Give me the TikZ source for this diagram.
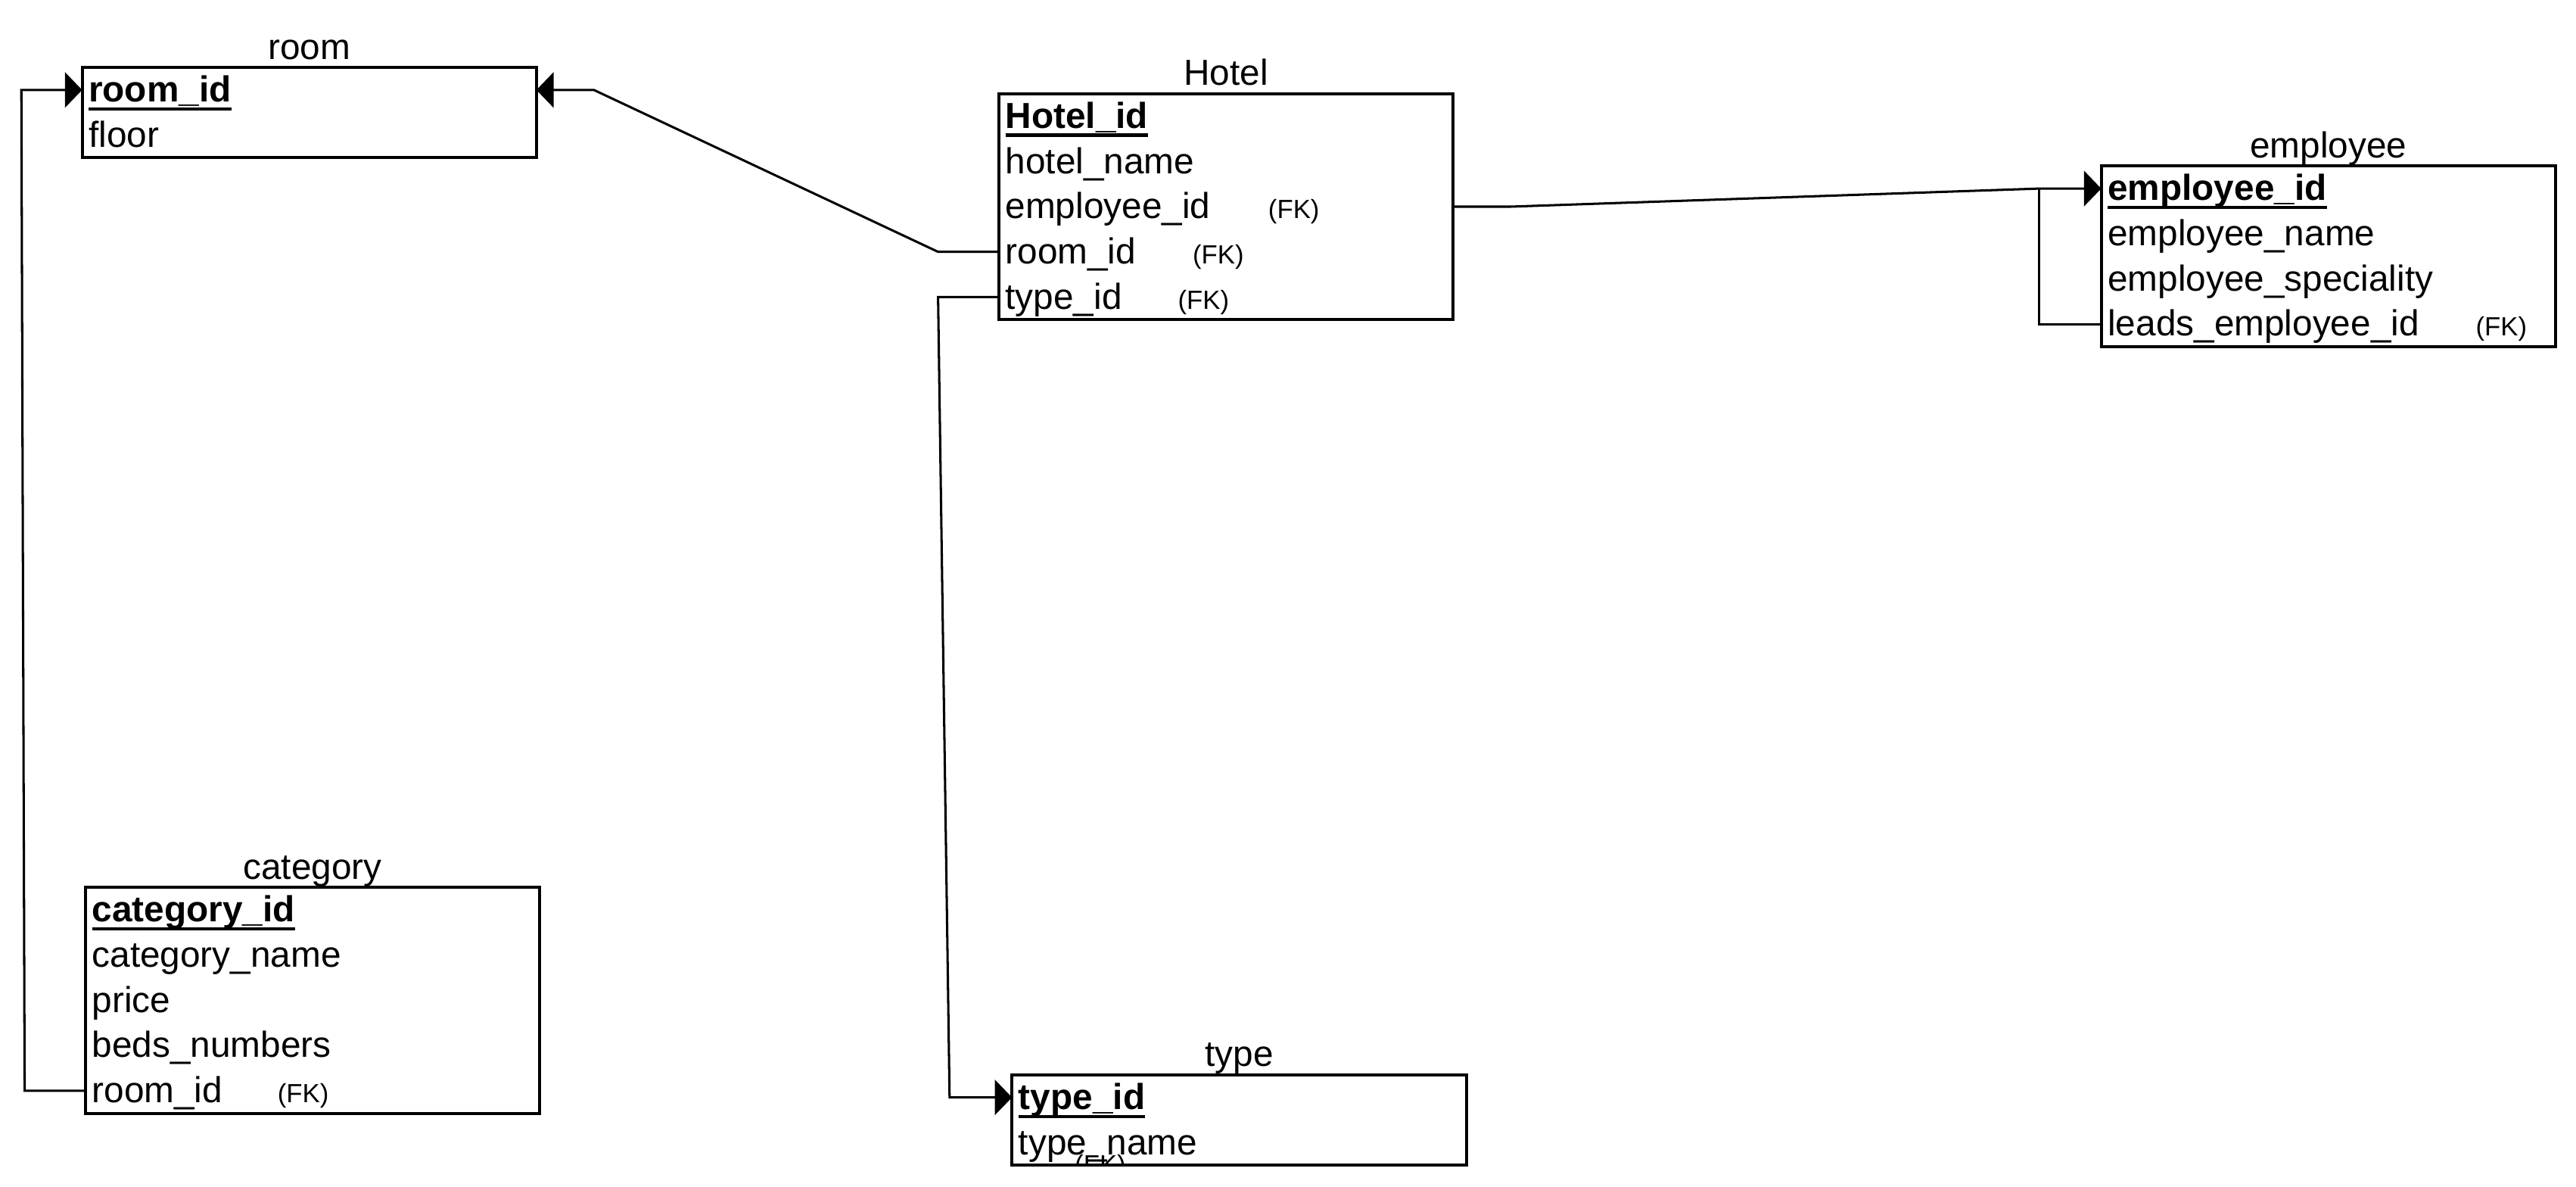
\documentclass[tikz,border=0pt]{standalone}
\usepackage{fontspec}
\setmainfont{Liberation Sans}
\usetikzlibrary{arrows.meta,positioning,fit}
% bold, underlined primary-key column
\newsavebox\pkbox
\newcommand\pkey[1]{\sbox\pkbox{\bfseries #1}\rlap{\rule[-5.2pt]{\wd\pkbox}{1.9pt}}\usebox\pkbox}
% small "(FK)" marker set at a fixed distance after the column name
\newcommand\fkfont{\fontsize{16pt}{19pt}\selectfont}
\newcommand\withfk[2]{\makebox[#1][l]{#2}{\fkfont (FK)}}

\begin{document}
\begin{tikzpicture}[x=1pt,y=-1pt,
  row/.style={rectangle, inner xsep=4pt, inner ysep=2.5pt, outer sep=0pt,
    text width=268.5pt, align=left, text height=18.5pt, text depth=4pt,
    minimum height=27.5pt, font=\fontsize{22pt}{26pt}\selectfont},
  tbl/.style={draw, line width=1.8pt, inner sep=0pt, outer sep=0pt},
  ttl/.style={anchor=base, inner sep=0pt, font=\fontsize{22pt}{26pt}\selectfont},
  link/.style={line width=1.4pt},
  fkarrow/.style={-{Triangle[length=10.5pt,width=21.5pt]}},
]
\useasboundingbox (0,0) rectangle (1568,722);

% ---- room ----
\node[row, anchor=north west] (room-id) at (50,41) {\pkey{room\_id}};
\node[row, below=0pt of room-id] (room-floor) {floor};
\node[tbl, fit=(room-id)(room-floor)] (room) {};
\node[ttl] (room-title) at ([yshift=5pt]room.north) {room};

% ---- Hotel ----
\node[row, anchor=north west] (hotel-id) at (608,57) {\pkey{Hotel\_id}};
\node[row, below=0pt of hotel-id] (hotel-name) {hotel\_name};
\node[row, below=0pt of hotel-name] (hotel-emp) {\withfk{160pt}{employee\_id}};
\node[row, below=0pt of hotel-emp] (hotel-room) {\withfk{114pt}{room\_id}};
\node[row, below=0pt of hotel-room] (hotel-type) {\withfk{105pt}{type\_id}};
\node[tbl, fit=(hotel-id)(hotel-type)] (hotel) {};
\node[ttl] (hotel-title) at ([yshift=5pt]hotel.north) {Hotel};

% ---- employee ----
\node[row, anchor=north west] (emp-id) at (1279,101) {\pkey{employee\_id}};
\node[row, below=0pt of emp-id] (emp-name) {employee\_name};
\node[row, below=0pt of emp-name] (emp-spec) {employee\_speciality};
\node[row, below=0pt of emp-spec] (emp-leads) {\withfk{224pt}{leads\_employee\_id}};
\node[tbl, fit=(emp-id)(emp-leads)] (employee) {};
\node[ttl] (emp-title) at ([yshift=5pt]employee.north) {employee};

% ---- category ----
\node[row, anchor=north west] (cat-id) at (52,540) {\pkey{category\_id}};
\node[row, below=0pt of cat-id] (cat-name) {category\_name};
\node[row, below=0pt of cat-name] (cat-price) {price};
\node[row, below=0pt of cat-price] (cat-beds) {beds\_numbers};
\node[row, below=0pt of cat-beds] (cat-room) {\withfk{113pt}{room\_id}};
\node[tbl, fit=(cat-id)(cat-room)] (category) {};
\node[ttl] (cat-title) at ([yshift=5pt]category.north) {category};

% ---- type ----
\node[row, anchor=north west] (type-id) at (616,654) {\pkey{type\_id}};
\node[row, below=0pt of type-id] (type-name) {type\_name};
\begin{scope}
  \clip (type-id.north west) rectangle (type-name.south east);
  \node[anchor=base west, inner sep=0pt, font=\fkfont] (type-fk)
    at ([xshift=38pt,yshift=-5pt]type-name.south west) {(FK)};
\end{scope}
\node[tbl, fit=(type-id)(type-name)] (type) {};
\node[ttl] (type-title) at ([yshift=5pt]type.north) {type};

% ---- relationships ----
\draw[link, fkarrow] (hotel-room.west) -- ++(-37,0)
  -- ([xshift=35pt]room-id.east) -- (room-id.east);
\draw[link, fkarrow] (cat-room.west) -- ++(-37,0)
  -- ([xshift=-37pt]room-id.west) -- (room-id.west);
\draw[link, fkarrow] (hotel-type.west) -- ++(-37,0)
  -- ([xshift=-38pt]type-id.west) -- (type-id.west);
\draw[link, fkarrow] (hotel-emp.east) -- ++(35,0)
  -- ([xshift=-38pt]emp-id.west) -- (emp-id.west);
\draw[link] (emp-leads.west) -- ++(-38,0) -- ([xshift=-38pt]emp-id.west);
\end{tikzpicture}
\end{document}
